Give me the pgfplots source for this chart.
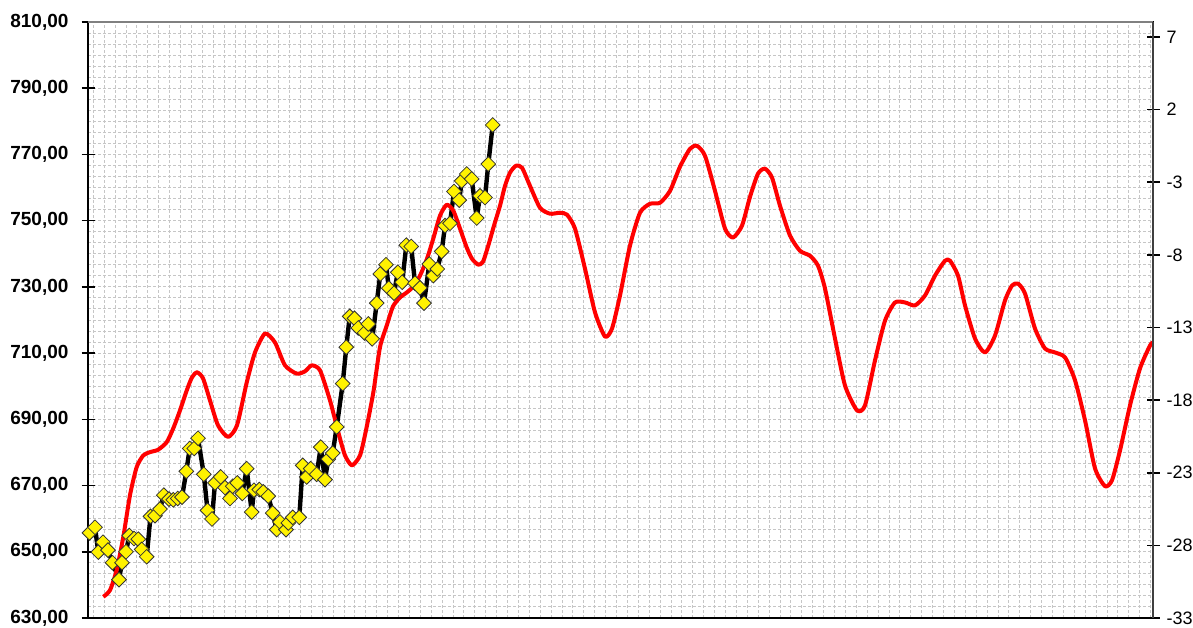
\documentclass[border=0pt]{standalone}
\usepackage{fontspec}
\setmainfont{Liberation Sans}
\usepackage{pgfplots}
\pgfplotsset{compat=1.18}

% yellow series: price (x = offset in chart units, y = left axis)
\pgfplotstableread{
x y
1.5 655.7
7 657.4
10.3 649.9
15 652.9
20 650.5
24.5 646.7
31 641.6
34 646.7
38 650.0
41.3 654.9
46 654.0
50.3 653.8
53.7 650.7
58.7 648.5
62.5 660.7
67 660.9
72 662.9
75.8 667.1
81 665.9
85.3 665.7
89.7 666.1
94 666.5
98.3 674.3
101.7 681.2
106.2 681.2
110 684.3
115.8 673.4
119.5 662.5
124 659.9
127 670.8
132.7 672.6
137 669.4
142 666.1
144.7 669.8
149.3 670.8
154.3 667.6
158.7 675.1
163.7 662.0
166 668.6
171.3 668.8
175.3 668.1
180.3 666.8
184.7 661.7
188.7 656.7
192 659.0
198 656.7
200.3 658.7
204.7 660.4
211.3 660.4
214.7 676.1
218.7 672.6
222.7 675.1
228.7 673.4
232.7 681.6
237 671.8
240.3 678.0
244.7 679.8
248.7 687.7
254.7 700.8
258.3 711.8
261.7 721.1
266.5 720.5
270.3 717.6
276.5 716.1
280.3 718.8
284.2 714.3
288.7 725.1
292.3 733.9
298 736.7
300.8 729.6
306 728.1
309.8 734.4
314.2 731.4
318.3 742.6
323.2 742.2
327 731.1
332 729.7
336 725.1
341.3 736.9
345.3 733.4
349.3 735.4
353.7 740.7
357 748.5
362 749.2
366 758.8
371.3 756.2
373.7 762.0
378.7 764.1
383.7 762.6
388.7 750.8
392 757.5
397 757.0
400.3 767.1
404.7 778.9
}\pricedata

% red series: oscillator curve
\pgfplotstableread{
x y
15.3 636.4
22 638.4
28.7 644.5
35.3 654.5
42 667.1
48.7 675.6
55.3 679.1
62 680.1
70 680.8
78.7 683.1
85.3 687.3
92 692.7
98.7 698.7
104 702.7
109 704.2
115 702.4
122 695.7
130 688.2
140 684.7
149 688.2
158.7 701.1
167 710.2
177 715.9
187 713.2
197 706.3
208.7 703.8
217 704.5
223.7 706.3
232 704.8
242 695.7
250.3 686.1
257 679.1
264 676.1
272 679.1
278 686.7
285.3 698.1
292 711.8
298.7 718.3
305 724.1
312 726.8
318.7 728.3
325.3 730.1
332 733.4
339 738.5
345.3 744.6
352 751.5
358.7 754.8
365.3 753.0
372 747.6
378.7 741.9
384 738.5
390.3 736.7
395 737.6
400.3 742.5
406 748.5
412 754.5
417 760.5
422 764.5
428 766.6
434 766.0
442 760.5
452 753.9
462 752.1
472 752.4
479 751.8
487 747.6
497 735.5
507 722.3
517 715.0
524 717.4
532 727.4
542 742.5
552 752.4
562 755.1
572 755.4
582 759.0
592 766.3
602 771.7
609 772.6
617 769.6
627 759.0
637 747.6
645 744.9
654 748.5
662 757.2
670 764.2
677 765.7
684 763.0
692 754.5
702 745.5
712 740.9
722 739.4
730 736.4
737 729.5
747 714.4
757 700.2
769 692.7
777 694.2
787 707.8
797 719.8
807 725.3
817 725.3
827 724.4
837 727.4
847 733.4
857 737.9
862 737.9
870 733.4
877 724.4
887 714.4
897 710.2
907 715.3
917 725.9
924 730.4
930 731.0
937 728.0
947 717.4
957 711.4
967 710.2
977 708.7
987 701.8
997 689.7
1007 675.2
1017 669.8
1024 671.6
1032 680.6
1042 694.2
1052 705.4
1062 712.3
1065 713.2
}\oscdata

\begin{document}
\begin{tikzpicture}
\useasboundingbox (0,0) rectangle (596.5pt,313.5pt);
\begin{axis}[
    at={(44pt,4.5pt)}, anchor=south west,
    scale only axis,
    width=532.5pt, height=298pt,
    xmin=0, xmax=1065,
    ymin=630, ymax=810,
    xtick={5.3,16.2,...,1065},
    xticklabels={},
    xtick style={draw=none},
    ytick={630,650,...,810},
    ytick pos=left,
    minor y tick num=5,
    minor tick length=0pt,
    major tick length=6.5pt,
    tick align=center,
    ytick style={black, line width=0.8pt},
    grid=both,
    major grid style={gray!45, line width=0.5pt, dash pattern=on 1.5pt off 1pt},
    minor grid style={gray!45, line width=0.5pt, dash pattern=on 1.5pt off 1pt},
    axis line style={black, line width=1pt},
    /pgf/number format/.cd, fixed, fixed zerofill, precision=2, use comma, assume math mode=true,
    /pgfplots/.cd,
    yticklabel style={font=\fontsize{9.5}{11}\selectfont\bfseries, xshift=-3pt},
    clip=false,
]
\addplot[black, line width=2.2pt, line join=round, mark=square*, mark size=2.6pt,
    mark options={rotate=45, fill=yellow, draw=black!80, line width=0.4pt, solid, line join=miter}]
    table[x=x, y=y] {\pricedata};
\addplot[red, line width=2pt, line join=round, smooth, tension=0.4] table[x=x, y=y] {\oscdata};
\draw[gray, line width=1pt] (rel axis cs:0,1) -- (rel axis cs:1,1);
\end{axis}
\begin{axis}[
    at={(44pt,4.5pt)}, anchor=south west,
    scale only axis,
    width=532.5pt, height=298pt,
    xmin=0, xmax=1065,
    ymin=-33, ymax=8.03,
    axis x line=none,
    axis y line*=right,
    axis line style={black!75, line width=1pt, -},
    ytick={-33,-28,...,7},
    yticklabels={-33,-28,-23,-18,-13,-8,-3,2,7},
    major tick length=6.5pt,
    tick align=center,
    ytick style={black, line width=0.8pt},
    yticklabel style={font=\fontsize{9}{10}\selectfont, xshift=0pt},
]
\end{axis}
\end{tikzpicture}
\end{document}
